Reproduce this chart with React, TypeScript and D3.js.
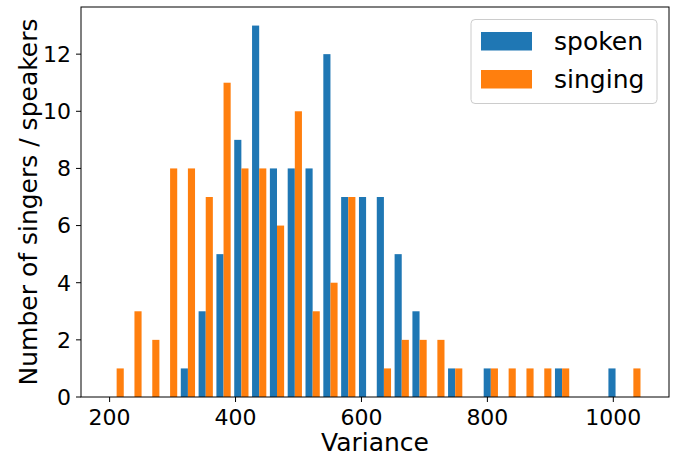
import React from 'react';
import * as d3 from 'd3';

// histogram of variance, 30 bins shared by both series
const binStart = 197;
const binEnd = 1046;
const binCount = 30;

const spokenCounts = [0, 0, 0, 0, 1, 3, 5, 9, 13, 8, 8, 8, 12, 7, 7, 7, 5, 3, 0, 1, 0, 1, 0, 0, 0, 1, 0, 0, 1, 0];
const singingCounts = [1, 3, 2, 8, 8, 7, 11, 8, 8, 6, 10, 3, 4, 7, 0, 1, 2, 2, 2, 1, 0, 1, 1, 1, 1, 1, 0, 0, 0, 1];

const seriesNames = ['spoken', 'singing'];
const seriesColors = ['#1f77b4', '#ff7f0e'];

const xTicks = [200, 400, 600, 800, 1000];
const yTicks = [0, 2, 4, 6, 8, 10, 12];

const W = 679;
const H = 459;
const margin = { top: 7, right: 10, bottom: 62, left: 81 };
const font = 'DejaVu Sans, sans-serif';

const App = () => {
  const binW = (binEnd - binStart) / binCount;
  const edges = d3.range(binCount).map((i) => binStart + i * binW);
  const pad = (binEnd - binStart) * 0.05;
  const yMax = d3.max([...spokenCounts, ...singingCounts]) as number;

  const x = d3
    .scaleLinear()
    .domain([binStart - pad, binEnd + pad])
    .range([margin.left, W - margin.right]);
  const y = d3
    .scaleLinear()
    .domain([0, yMax * 1.05])
    .range([H - margin.bottom, margin.top]);

  const series = [spokenCounts, singingCounts];
  const plotLeft = margin.left;
  const plotRight = W - margin.right;
  const plotTop = margin.top;
  const plotBottom = H - margin.bottom;

  return (
    <svg
      width={W}
      height={H}
      style={{ position: 'absolute', left: 0, top: 0, background: '#fff' }}
      fontFamily={font}
    >
      {/* bars */}
      {series.map((counts, s) =>
        counts.map((c, i) =>
          c > 0 ? (
            <rect
              key={`${s}-${i}`}
              x={x(edges[i] + binW * (0.1 + 0.4 * s))}
              width={x(edges[i] + binW * 0.4) - x(edges[i])}
              y={y(c)}
              height={y(0) - y(c)}
              fill={seriesColors[s]}
            />
          ) : null
        )
      )}

      {/* frame */}
      <rect
        x={plotLeft}
        y={plotTop}
        width={plotRight - plotLeft}
        height={plotBottom - plotTop}
        fill="none"
        stroke="#000"
        strokeWidth={1}
      />

      {/* x axis */}
      {xTicks.map((t) => (
        <g key={t}>
          <line x1={x(t)} x2={x(t)} y1={plotBottom} y2={plotBottom + 5} stroke="#000" strokeWidth={1} />
          <text x={x(t)} y={plotBottom + 28} textAnchor="middle" fontSize={22} fill="#000">
            {t}
          </text>
        </g>
      ))}
      <text x={(plotLeft + plotRight) / 2} y={451} textAnchor="middle" fontSize={25} fill="#000">
        Variance
      </text>

      {/* y axis */}
      {yTicks.map((t) => (
        <g key={t}>
          <line x1={plotLeft - 5} x2={plotLeft} y1={y(t)} y2={y(t)} stroke="#000" strokeWidth={1} />
          <text x={plotLeft - 10} y={y(t)} dy="0.36em" textAnchor="end" fontSize={22} fill="#000">
            {t}
          </text>
        </g>
      ))}
      <text
        transform={`translate(37,${(plotTop + plotBottom) / 2}) rotate(-90)`}
        textAnchor="middle"
        fontSize={25}
        fill="#000"
      >
        Number of singers / speakers
      </text>

      {/* legend */}
      <g>
        <rect x={471} y={19.5} width={186} height={84} rx={4} fill="#fff" fillOpacity={0.8} stroke="#cccccc" strokeWidth={1} />
        {seriesNames.map((name, i) => (
          <g key={name} transform={`translate(481,${32 + i * 38})`}>
            <rect x={0} y={0} width={51} height={18.5} fill={seriesColors[i]} />
            <text x={73} y={9.25} dy="0.36em" fontSize={25} fill="#000">
              {name}
            </text>
          </g>
        ))}
      </g>
    </svg>
  );
};

export default App;
